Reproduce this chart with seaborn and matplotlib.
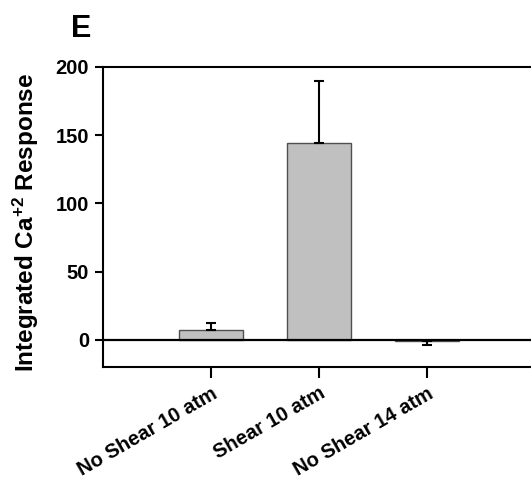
import matplotlib
matplotlib.use("Agg")
import matplotlib.pyplot as plt
import seaborn as sns
import pandas as pd

categories = ["No Shear 10 atm", "Shear 10 atm", "No Shear 14 atm"]
means = [7.0, 144.0, -1.2]
errors = [5.5, 45.5, 2.5]
yticks = [0, 50, 100, 150, 200]

sns.set_style("ticks")
plt.rcParams["font.family"] = ["Liberation Sans", "DejaVu Sans"]
plt.rcParams["font.weight"] = "bold"
plt.rcParams["text.color"] = "black"
plt.rcParams["axes.labelcolor"] = "black"
plt.rcParams["xtick.color"] = "black"
plt.rcParams["ytick.color"] = "black"
plt.rcParams["mathtext.fontset"] = "custom"
plt.rcParams["mathtext.rm"] = "Liberation Sans:bold"
plt.rcParams["mathtext.it"] = "Liberation Sans:bold"
plt.rcParams["mathtext.bf"] = "Liberation Sans:bold"

df = pd.DataFrame({"cat": categories, "val": means})

fig = plt.figure(figsize=(5.31, 4.82), dpi=100)
ax = fig.add_axes([103/531, 1-367/482, 432/531, 300/482])

sns.barplot(data=df, x="cat", y="val", ax=ax, color="#c0c0c0", width=0.6,
            edgecolor="#505050", linewidth=1.0, errorbar=None, saturation=1)

lower = [0 if m >= 0 else e for m, e in zip(means, errors)]
upper = [e if m >= 0 else 0 for m, e in zip(means, errors)]
ax.errorbar(range(len(categories)), means, yerr=[lower, upper], fmt="none",
            ecolor="black", elinewidth=1.5, capsize=3.8, capthick=1.5, zorder=5)

ax.axhline(0, color="black", lw=1.6, zorder=6)
ax.set_xlim(-1, 3)
ax.set_ylim(-20, 200)
ax.set_yticks(yticks)
ax.set_xlabel("")
ax.set_ylabel(r"Integrated Ca$^{+2}$ Response", fontsize=17.5, fontweight="bold",
              color="black")
ax.yaxis.set_label_coords(-0.143, 0.483)
for s in ax.spines.values():
    s.set_linewidth(1.5)
    s.set_color("black")
ax.tick_params(axis="y", direction="out", length=6, width=1.5, labelsize=14.5, pad=4,
               colors="black")
ax.tick_params(axis="x", direction="out", length=8, width=1.5, labelsize=14.5, pad=4,
               colors="black")
for lab in ax.get_yticklabels():
    lab.set_fontweight("bold")
ax.set_xticks(range(len(categories)))
ax.set_xticklabels(categories, rotation=30, ha="right", rotation_mode="anchor",
                   fontweight="bold")

fig.text(0.133, 0.94, "E", fontsize=22, fontweight="bold", va="center", ha="left",
         color="black")

fig.savefig("out.png", dpi=100)
